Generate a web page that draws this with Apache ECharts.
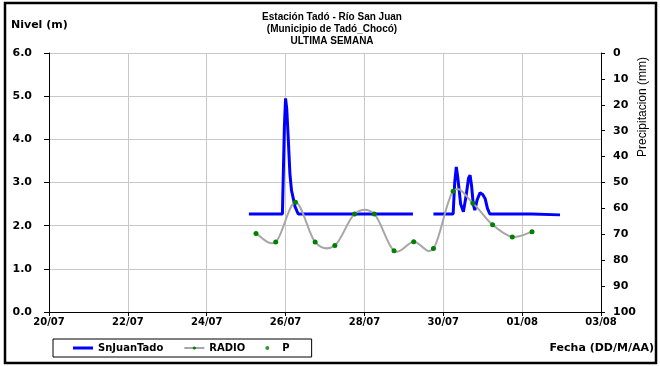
<!DOCTYPE html>
<html>
<head>
<meta charset="utf-8">
<script src="https://cdn.jsdelivr.net/npm/echarts@6/dist/echarts.min.js"></script>
<style>
  html, body { margin: 0; padding: 0; background: #fff; }
  #chart { width: 660px; height: 366px; }
</style>
</head>
<body>
<div id="chart"></div>
<script>
// x values are days counted from 20/07 00:00
const tickLabels = ['20/07', '22/07', '24/07', '26/07', '28/07', '30/07', '01/08', '03/08'];

// SnJuanTado water level (m), '-' breaks the line
const sjTime = [5.07, 5.92, 5.97, 6.00, 6.03, 6.07, 6.11, 6.15, 6.24, 6.32, 9.23,
  9.48,
  9.75, 10.25, 10.29, 10.33, 10.37, 10.44, 10.51, 10.58, 10.64, 10.68, 10.72, 10.76, 10.80,
  10.86, 10.93, 11.00, 11.06, 11.12, 11.18, 12.00, 12.05, 12.24, 12.26, 12.96];
const sjLevel = [2.27, 2.27, 4.3, 4.95, 4.7, 3.98, 3.2, 2.82, 2.44, 2.27, 2.27,
  '-',
  2.27, 2.27, 3.0, 3.36, 3.1, 2.5, 2.32, 2.7, 3.1, 3.17, 2.9, 2.5, 2.36,
  2.6, 2.76, 2.72, 2.63, 2.4, 2.27, 2.27, 2.28, 2.27, 2.25, 2.25];

// RADIO readings (m)
const radioTime = [5.25, 5.75, 6.25, 6.75, 7.25, 7.75, 8.25, 8.75, 9.25, 9.75, 10.25, 10.75, 11.25, 11.75, 12.25];
const radioLevel = [1.82, 1.62, 2.54, 1.62, 1.54, 2.27, 2.27, 1.42, 1.63, 1.47, 2.80, 2.52, 2.02, 1.74, 1.86];

// P precipitation (mm): no readings this week
const pTime = [];
const pValue = [];

const zip = (xs, ys) => xs.map((x, i) => [x, ys[i]]);

const chart = echarts.init(document.getElementById('chart'), null, { renderer: 'canvas' });

const labelFont = { color: '#000', fontWeight: 'bold', fontSize: 10, fontFamily: 'DejaVu Sans' };

// Excel style smoothed line (Catmull-Rom) through the RADIO points
function radioCurve(params, api) {
  if (params.dataIndex !== 0) return;
  const p = radioTime.map((t, i) => api.coord([t, radioLevel[i]]));
  const n = p.length;
  const children = [];
  for (let i = 0; i < n - 1; i++) {
    const p0 = p[Math.max(i - 1, 0)], p1 = p[i], p2 = p[i + 1], p3 = p[Math.min(i + 2, n - 1)];
    children.push({
      type: 'bezierCurve',
      shape: {
        x1: p1[0], y1: p1[1], x2: p2[0], y2: p2[1],
        cpx1: p1[0] + (p2[0] - p0[0]) / 6, cpy1: p1[1] + (p2[1] - p0[1]) / 6,
        cpx2: p2[0] - (p3[0] - p1[0]) / 6, cpy2: p2[1] - (p3[1] - p1[1]) / 6
      },
      style: { fill: null, stroke: '#a6a6a6', lineWidth: 2 }
    });
  }
  return { type: 'group', children: children };
}

chart.setOption({
  backgroundColor: '#fff',
  animation: false,
  title: {
    text: 'Estación Tadó - Río San Juan\n(Municipio de Tadó_Chocó)\nULTIMA SEMANA',
    left: 327,
    top: 6,
    textAlign: 'center',
    textStyle: { color: '#000', fontWeight: 'bold', fontSize: 10, fontFamily: 'Liberation Sans', lineHeight: 12 }
  },
  legend: {
    left: 53,
    top: 339,
    itemWidth: 20,
    itemHeight: 4,
    itemGap: 20,
    padding: [4, 22, 4, 20],
    borderColor: '#000',
    borderWidth: 1,
    textStyle: labelFont,
    data: [
      { name: 'SnJuanTado', icon: 'path://M0,0H20V3H0Z' },
      { name: 'RADIO', lineStyle: { color: '#a6a6a6', width: 2, opacity: 1 } },
      'P'
    ]
  },
  grid: { left: 49, right: 59, top: 53, bottom: 54 },
  xAxis: {
    type: 'value',
    min: 0,
    max: 14,
    interval: 2,
    axisLine: { lineStyle: { color: '#000', width: 1 } },
    axisTick: { length: 4, lineStyle: { color: '#000' } },
    axisLabel: Object.assign({ margin: 5, formatter: v => tickLabels[Math.round(v / 2)] }, labelFont),
    splitLine: { show: true, lineStyle: { color: '#c8c8c8', width: 1 } }
  },
  yAxis: [
    {
      type: 'value',
      min: 0,
      max: 6,
      interval: 1,
      axisLine: { show: true, lineStyle: { color: '#000', width: 1 } },
      axisTick: { show: true, length: 5, lineStyle: { color: '#000' } },
      axisLabel: Object.assign({}, labelFont, { fontSize: 11, margin: 17, formatter: v => v.toFixed(1) }),
      splitLine: { show: true, lineStyle: { color: '#c8c8c8', width: 1 } }
    },
    {
      type: 'value',
      position: 'right',
      min: 0,
      max: 100,
      interval: 10,
      inverse: true,
      axisLine: { show: true, lineStyle: { color: '#000', width: 1 } },
      axisTick: { show: true, length: 4, lineStyle: { color: '#000' } },
      axisLabel: Object.assign({}, labelFont, { fontSize: 11, margin: 12 }),
      splitLine: { show: false }
    }
  ],
  graphic: [
    {
      type: 'text', left: 11, top: 20,
      style: { text: 'Nivel (m)', fill: '#000', font: 'bold 11px "DejaVu Sans"' }
    },
    {
      type: 'text', right: 6, top: 343,
      style: { text: 'Fecha (DD/M/AA)', fill: '#000', font: 'bold 11px "DejaVu Sans"' }
    },
    {
      type: 'text', x: 643, y: 107, rotation: Math.PI / 2,
      style: { text: 'Precipitacion (mm)', fill: '#000', font: '12px "Liberation Sans"', textAlign: 'center', textVerticalAlign: 'middle' }
    },
    {
      type: 'rect', shape: { x: 5, y: 3, width: 651, height: 360 },
      style: { fill: 'none', stroke: '#000', lineWidth: 2.5 }, z: 100
    }
  ],
  series: [
    {
      name: 'SnJuanTado',
      type: 'line',
      data: zip(sjTime, sjLevel),
      symbol: 'none',
      connectNulls: false,
      lineStyle: { color: '#0000ff', width: 3 },
      itemStyle: { color: '#0000ff' },
      z: 3
    },
    {
      name: 'RADIO curve',
      type: 'custom',
      renderItem: radioCurve,
      data: [[radioTime[0], radioLevel[0]]],
      silent: true,
      z: 4
    },
    {
      name: 'RADIO',
      type: 'line',
      data: zip(radioTime, radioLevel),
      symbol: 'circle',
      symbolSize: 5,
      lineStyle: { color: '#a6a6a6', width: 0 },
      itemStyle: { color: '#008000' },
      z: 5
    },
    {
      name: 'P',
      type: 'scatter',
      yAxisIndex: 1,
      data: zip(pTime, pValue),
      symbolSize: 4,
      itemStyle: { color: '#008000' }
    }
  ]
});
</script>
</body>
</html>
